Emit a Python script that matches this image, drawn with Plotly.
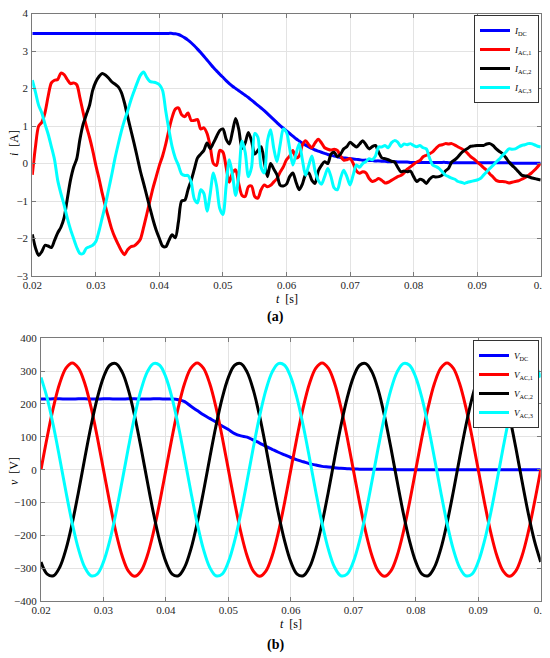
import numpy as np
import plotly.graph_objects as go

# time grids (s)
t_i = np.linspace(0.02, 0.1, 161)   # 0.5 ms step, currents
t_v = np.linspace(0.02, 0.1, 81)    # 1 ms step, voltages

# currents [A]
i_dc = [
    3.47, 3.47, 3.47, 3.47, 3.47, 3.47, 3.47, 3.47, 3.47, 3.47,
    3.47, 3.47, 3.47, 3.47, 3.47, 3.47, 3.47, 3.47, 3.47, 3.47,
    3.47, 3.47, 3.47, 3.47, 3.47, 3.47, 3.47, 3.47, 3.47, 3.47,
    3.47, 3.47, 3.47, 3.47, 3.47, 3.47, 3.47, 3.47, 3.47, 3.47,
    3.47, 3.47, 3.47, 3.47, 3.47, 3.46, 3.44, 3.40, 3.35, 3.29,
    3.22, 3.14, 3.05, 2.96, 2.86, 2.76, 2.66, 2.56, 2.47, 2.38,
    2.30, 2.21, 2.13, 2.06, 2.00, 1.94, 1.88, 1.82, 1.76, 1.69,
    1.62, 1.55, 1.48, 1.41, 1.33, 1.25, 1.17, 1.09, 1.01, 0.94,
    0.87, 0.80, 0.73, 0.66, 0.60, 0.54, 0.49, 0.44, 0.40, 0.36,
    0.33, 0.30, 0.27, 0.24, 0.22, 0.20, 0.18, 0.16, 0.15, 0.14,
    0.13, 0.12, 0.11, 0.10, 0.09, 0.09, 0.08, 0.08, 0.07, 0.07,
    0.06, 0.06, 0.05, 0.05, 0.05, 0.04, 0.04, 0.04, 0.04, 0.03,
    0.03, 0.03, 0.03, 0.03, 0.03, 0.03, 0.03, 0.03, 0.03, 0.03,
    0.03, 0.02, 0.02, 0.02, 0.02, 0.02, 0.02, 0.02, 0.02, 0.02,
    0.02, 0.02, 0.02, 0.02, 0.02, 0.02, 0.02, 0.02, 0.02, 0.02,
    0.02, 0.01, 0.01, 0.01, 0.01, 0.01, 0.01, 0.01, 0.01, 0.01,
    0.01,
]
i_ac1 = [
    -0.30, 0.45, 1.00, 1.10, 1.36, 1.80, 2.15, 2.22, 2.24, 2.41,
    2.37, 2.24, 2.13, 2.15, 2.10, 1.75, 1.36, 1.00, 0.70, 0.35,
    -0.05, -0.40, -0.79, -1.14, -1.45, -1.75, -1.97, -2.15, -2.32, -2.43,
    -2.30, -2.22, -2.20, -2.13, -2.02, -1.71, -1.36, -1.00, -0.65, -0.35,
    -0.05, 0.20, 0.52, 0.90, 1.23, 1.45, 1.48, 1.30, 1.25, 1.35,
    1.15, 1.15, 1.17, 0.92, 0.95, 0.80, 0.45, 0.00, -0.05, 0.35,
    0.30, -0.10, -0.50, -0.25, -0.17, -0.55, -0.85, -0.88, -0.62, -0.60,
    -0.88, -0.92, -0.70, -0.57, -0.62, -0.58, -0.49, -0.40, -0.23, -0.09,
    0.10, 0.20, 0.35, 0.15, 0.20, 0.50, 0.61, 0.50, 0.42, 0.55,
    0.65, 0.55, 0.42, 0.38, 0.36, 0.38, 0.35, 0.20, 0.09, 0.10,
    0.13, 0.00, -0.20, -0.26, -0.22, -0.25, -0.40, -0.48, -0.45, -0.40,
    -0.45, -0.52, -0.50, -0.45, -0.40, -0.35, -0.32, -0.25, -0.15, -0.09,
    -0.02, 0.04, 0.08, 0.18, 0.22, 0.26, 0.31, 0.40, 0.48, 0.50,
    0.53, 0.52, 0.53, 0.49, 0.44, 0.40, 0.35, 0.27, 0.18, 0.12,
    0.04, -0.03, -0.11, -0.18, -0.28, -0.36, -0.45, -0.48, -0.48, -0.49,
    -0.52, -0.50, -0.48, -0.46, -0.42, -0.38, -0.32, -0.26, -0.18, -0.09,
    0.00,
]
i_ac2 = [
    -1.89, -2.25, -2.45, -2.35, -2.18, -2.20, -2.24, -2.05, -1.85, -1.70,
    -1.45, -0.95, -0.45, -0.10, 0.13, 0.65, 1.05, 1.30, 1.55, 1.95,
    2.18, 2.32, 2.40, 2.36, 2.28, 2.18, 2.12, 2.05, 1.90, 1.62,
    1.25, 0.90, 0.55, 0.18, -0.20, -0.52, -0.85, -1.18, -1.50, -1.78,
    -2.00, -2.20, -2.22, -2.05, -1.90, -1.98, -1.55, -1.00, -0.98, -0.70,
    -0.45, -0.15, 0.15, 0.25, 0.35, 0.55, 0.40, 0.55, 0.72, 0.88,
    0.92, 0.65, 0.52, 0.85, 1.20, 0.90, 0.40, 0.55, 0.83, 0.60,
    0.25, 0.35, 0.45, 0.05, -0.35, 0.00, -0.15, -0.30, -0.58, -0.60,
    -0.55, -0.35, -0.25, -0.50, -0.70, -0.55, -0.30, -0.25, -0.45, -0.53,
    -0.20, -0.05, 0.05, 0.00, 0.25, 0.30, 0.18, 0.25, 0.39, 0.45,
    0.57, 0.50, 0.44, 0.52, 0.61, 0.50, 0.39, 0.45, 0.48, 0.30,
    0.15, 0.13, 0.10, 0.06, 0.04, -0.10, -0.22, -0.20, -0.22, -0.20,
    -0.35, -0.48, -0.42, -0.45, -0.53, -0.42, -0.35, -0.36, -0.35, -0.31,
    -0.20, -0.13, 0.04, 0.10, 0.18, 0.28, 0.35, 0.40, 0.46, 0.47,
    0.48, 0.48, 0.48, 0.52, 0.53, 0.48, 0.39, 0.32, 0.26, 0.16,
    0.04, -0.05, -0.13, -0.22, -0.31, -0.33, -0.35, -0.38, -0.40, -0.42,
    -0.44,
]
i_ac3 = [
    2.22, 1.90, 1.55, 1.35, 1.05, 0.78, 0.45, 0.10, -0.45, -0.80,
    -1.10, -1.45, -1.75, -2.00, -2.24, -2.40, -2.40, -2.26, -2.22, -2.18,
    -2.08, -1.80, -1.45, -1.10, -0.70, -0.30, 0.13, 0.50, 0.85, 1.15,
    1.40, 1.68, 1.92, 2.15, 2.35, 2.44, 2.30, 2.19, 2.17, 2.15,
    2.10, 1.95, 1.40, 0.90, 0.45, 0.15, -0.05, -0.28, -0.32, -0.32,
    -0.50, -0.95, -1.05, -0.70, -0.80, -1.27, -0.80, -0.25, -0.60, -1.20,
    -1.36, -0.60, 0.10, -0.30, -0.85, -0.30, 0.60, 0.30, -0.35, -0.10,
    0.80, 0.70, -0.10, -0.25, 0.60, 0.90, 0.40, 0.05, 0.50, 0.92,
    0.83, 0.40, -0.04, 0.25, 0.53, 0.10, -0.31, -0.05, 0.20, -0.20,
    -0.45, -0.55, -0.35, -0.13, -0.35, -0.65, -0.70, -0.40, -0.18, -0.35,
    -0.57, -0.30, -0.04, -0.10, 0.00, 0.05, 0.13, 0.10, 0.20, 0.44,
    0.44, 0.48, 0.42, 0.55, 0.61, 0.57, 0.45, 0.52, 0.50, 0.53,
    0.48, 0.45, 0.48, 0.42, 0.39, 0.15, -0.04, -0.08, -0.13, -0.22,
    -0.31, -0.35, -0.39, -0.42, -0.48, -0.50, -0.53, -0.50, -0.48, -0.46,
    -0.44, -0.40, -0.31, -0.22, -0.13, -0.05, 0.04, 0.12, 0.22, 0.30,
    0.39, 0.38, 0.39, 0.44, 0.48, 0.50, 0.53, 0.53, 0.50, 0.46,
    0.44,
]

# voltages [V]
v_dc = [
    215, 215, 216, 216, 215, 215, 216, 216, 215, 215,
    216, 216, 215, 215, 216, 216, 215, 215, 216, 216,
    215, 215, 213, 207, 193, 180, 167, 156, 145, 133,
    122, 110, 103, 99, 90, 81, 71, 62, 53, 45,
    37, 30, 24, 18, 14, 10, 8, 6, 4, 3,
    2, 1.5, 1, 1, 1, 1, 1, 0, 0, 0,
    0, 0, 0, 0, 0, 0, 0, 0, 0, 0,
    0, 0, 0, 0, 0, 0, 0, 0, 0, 0,
    0,
]
v_ac1 = [
    0, 100, 191, 263, 309, 325, 309, 263, 191, 100,
    0, -100, -191, -263, -309, -325, -309, -263, -191, -100,
    0, 100, 191, 263, 309, 325, 309, 263, 191, 100,
    0, -100, -191, -263, -309, -325, -309, -263, -191, -100,
    0, 100, 191, 263, 309, 325, 309, 263, 191, 100,
    0, -100, -191, -263, -309, -325, -309, -263, -191, -100,
    0, 100, 191, 263, 309, 325, 309, 263, 191, 100,
    0, -100, -191, -263, -309, -325, -309, -263, -191, -100,
    0,
]
v_ac2 = [
    -281, -318, -323, -297, -242, -163, -68, 34, 132, 217,
    281, 318, 323, 297, 242, 163, 68, -34, -132, -217,
    -281, -318, -323, -297, -242, -163, -68, 34, 132, 217,
    281, 318, 323, 297, 242, 163, 68, -34, -132, -217,
    -281, -318, -323, -297, -242, -163, -68, 34, 132, 217,
    281, 318, 323, 297, 242, 163, 68, -34, -132, -217,
    -281, -318, -323, -297, -242, -163, -68, 34, 132, 217,
    281, 318, 323, 297, 242, 163, 68, -34, -132, -217,
    -281,
]
v_ac3 = [
    281, 217, 132, 34, -68, -163, -242, -297, -323, -318,
    -281, -217, -132, -34, 68, 163, 242, 297, 323, 318,
    281, 217, 132, 34, -68, -163, -242, -297, -323, -318,
    -281, -217, -132, -34, 68, 163, 242, 297, 323, 318,
    281, 217, 132, 34, -68, -163, -242, -297, -323, -318,
    -281, -217, -132, -34, 68, 163, 242, 297, 323, 318,
    281, 217, 132, 34, -68, -163, -242, -297, -323, -318,
    -281, -217, -132, -34, 68, 163, 242, 297, 323, 318,
    281,
]

# tick labels
t_ticks = [0.02, 0.03, 0.04, 0.05, 0.06, 0.07, 0.08, 0.09, 0.1]
i_ticks = [-3, -2, -1, 0, 1, 2, 3, 4]
v_ticks = [-400, -300, -200, -100, 0, 100, 200, 300, 400]

colors = ['#0000ff', '#ff0000', '#000000', '#00ffff']
i_names = ['<i>I</i><sub>DC</sub>', '<i>I</i><sub>AC,1</sub>',
           '<i>I</i><sub>AC,2</sub>', '<i>I</i><sub>AC,3</sub>']
v_names = ['<i>V</i><sub>DC</sub>', '<i>V</i><sub>AC,1</sub>',
           '<i>V</i><sub>AC,2</sub>', '<i>V</i><sub>AC,3</sub>']

SERIF = 'Liberation Serif, DejaVu Serif, serif'

# the page body adds an 8 px margin, so the figure is drawn 8 px in from the window corner
OFF = 8
W, H = 550 - OFF, 658 - OFF


def fx(px):
    return (px - OFF) / W


def fy(py):
    return 1 - (py - OFF) / H


fig = go.Figure()

for name, ys, c in zip(i_names, [i_dc, i_ac1, i_ac2, i_ac3], colors):
    fig.add_trace(go.Scatter(x=t_i, y=ys, name=name, mode='lines',
                             line=dict(color=c, width=3, shape='spline', smoothing=0.8),
                             xaxis='x', yaxis='y', legend='legend'))

for name, ys, c in zip(v_names, [v_dc, v_ac1, v_ac2, v_ac3], colors):
    fig.add_trace(go.Scatter(x=t_v, y=ys, name=name, mode='lines',
                             line=dict(color=c, width=3, shape='spline', smoothing=1.0),
                             xaxis='x2', yaxis='y2', legend='legend2'))

axis_style = dict(showline=True, mirror='ticks', linecolor='#7a7a7a', linewidth=1,
                  ticks='inside', ticklen=4, tickcolor='#7a7a7a',
                  showgrid=True, gridcolor='#e3e3e3', zeroline=False,
                  automargin=False, ticklabeloverflow='allow', tickmode='array',
                  tickfont=dict(family=SERIF, size=11, color='#262626'))

legend_style = dict(xanchor='right', yanchor='top', bgcolor='white',
                    bordercolor='#333', borderwidth=1,
                    font=dict(family=SERIF, size=9, color='black'),
                    itemwidth=30, tracegroupgap=0)

fig.update_layout(
    template='none',
    width=W, height=H, autosize=False,
    margin=dict(l=0, r=0, t=0, b=0, pad=0),
    paper_bgcolor='white', plot_bgcolor='white',
    xaxis=dict(domain=[fx(32.3), fx(540.7)], anchor='y', range=[0.02, 0.1], tickvals=t_ticks,
               ticklabelstandoff=-1, **axis_style),
    yaxis=dict(domain=[fy(276), fy(13.5)], anchor='x', range=[-3, 4], tickvals=i_ticks,
               ticklabelstandoff=1, **axis_style),
    xaxis2=dict(domain=[fx(41), fx(540.7)], anchor='y2', range=[0.02, 0.1], tickvals=t_ticks,
                ticklabelstandoff=-1, **axis_style),
    yaxis2=dict(domain=[fy(601), fy(338.3)], anchor='x2', range=[-400, 400], tickvals=v_ticks,
                ticklabelstandoff=1, **axis_style),
    legend=dict(x=fx(539), y=fy(15), **legend_style),
    legend2=dict(x=fx(539), y=fy(340), **legend_style),
    showlegend=True,
)

txt = dict(family=SERIF, size=12, color='black')
bold = dict(family=SERIF, size=14, color='black')
annotations = [
    dict(text='<i>t</i>  [s]', x=fx(287), y=fy(299)),
    dict(text='<i>t</i>  [s]', x=fx(291), y=fy(624)),
    dict(text='<i>i</i>  [A]', x=fx(14), y=fy(143), textangle=-90),
    dict(text='<i>v</i>  [V]', x=fx(14), y=fy(471), textangle=-90),
    dict(text='<b>(a)</b>', x=fx(275), y=fy(317), font=bold),
    dict(text='<b>(b)</b>', x=fx(275), y=fy(645), font=bold),
]
for a in annotations:
    a.setdefault('font', txt)
    fig.add_annotation(xref='paper', yref='paper', showarrow=False,
                       xanchor='center', yanchor='middle', **a)

fig.write_html("out.html")
